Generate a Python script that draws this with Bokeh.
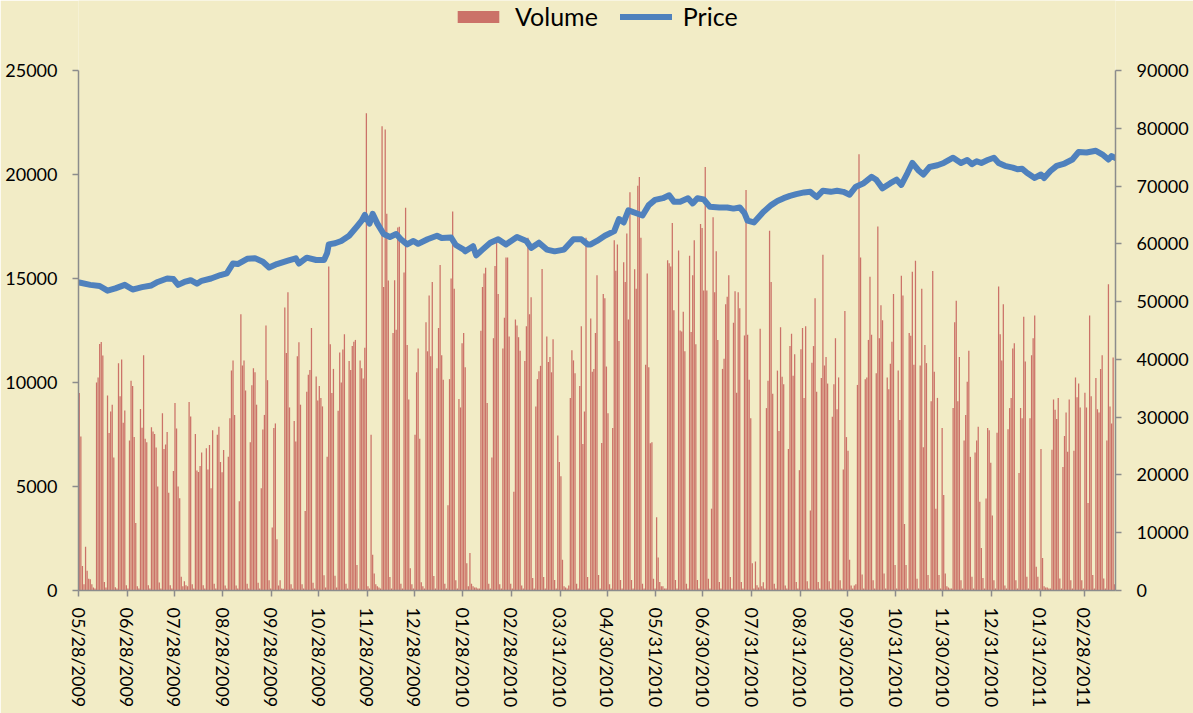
import numpy as np
import pandas as pd
from bokeh.plotting import figure
from bokeh.models import (Range1d, LinearAxis, FixedTicker, Legend, LegendItem,
                          NumeralTickFormatter)
from bokeh.embed import file_html
from bokeh.resources import INLINE

# ---------------- data ----------------
start_date = "05/28/2009"

tick_labels = ["05/28/2009", "06/28/2009", "07/28/2009", "08/28/2009", "09/28/2009",
               "10/28/2009", "11/28/2009", "12/28/2009", "01/28/2010", "02/28/2010",
               "03/31/2010", "04/30/2010", "05/31/2010", "06/30/2010", "07/31/2010",
               "08/31/2010", "09/30/2010", "10/31/2010", "11/30/2010", "12/31/2010",
               "01/31/2011", "02/28/2011"]

# daily volume: first Thu-Sun, then weeks Mon..Sun
vol_head = [9500, 7400, 1180, 300]
vol_weeks = [
    [2100, 950, 570, 540, 300, 150, 100],
    [10000, 10240, 11850, 11950, 11300, 410, 150],
    [9380, 7570, 8600, 8930, 6390, 160, 100],
    [10930, 9340, 11100, 8060, 8650, 250, 100],
    [7210, 10080, 9830, 7380, 3250, 210, 100],
    [8720, 7820, 11310, 7290, 7130, 250, 100],
    [7850, 7650, 7520, 6880, 5000, 380, 100],
    [8520, 6800, 7020, 7620, 4700, 250, 100],
    [5750, 9020, 7790, 5000, 4430, 660, 200],
    [440, 250, 200, 9060, 8360, 300, 100],
    [7520, 5770, 5700, 5980, 6640, 250, 100],
    [6835, 5818, 6999, 4917, 7703, 328, 100],
    [7490, 7867, 6179, 5687, 6753, 246, 100],
    [6425, 8277, 10572, 11063, 8441, 246, 100],
    [4294, 13276, 10817, 11063, 9621, 328, 100],
    [7130, 9867, 10686, 10490, 8933, 377, 100],
    [4917, 7736, 8441, 12735, 10113, 492, 100],
    [3032, 7818, 8031, 2459, 246, 492, 100],
    [82, 13604, 11424, 14341, 8801, 295, 100],
    [8146, 7162, 11260, 11932, 8933, 295, 100],
    [3819, 9555, 10375, 10605, 12620, 377, 100],
    [10293, 9129, 9834, 9260, 8851, 738, 150],
    [6425, 15571, 11834, 9500, 10654, 705, 150],
    [8637, 11440, 9998, 11588, 12325, 330, 100],
    [11030, 10605, 11752, 11965, 12047, 1230, 100],
    [11063, 10686, 10195, 11670, 22946, 200, 100],
    [7490, 1721, 820, 300, 200, 150, 100],
    [22323, 14587, 22159, 18111, 14900, 650, 100],
    [12375, 14915, 12539, 17455, 17488, 328, 100],
    [15292, 18406, 11801, 9178, 1065, 300, 100],
    [7490, 10490, 11637, 7294, 400, 200, 100],
    [12899, 11500, 14177, 11260, 14833, 700, 100],
    [10686, 12620, 15652, 11309, 10129, 328, 100],
    [4098, 10162, 14997, 18226, 14505, 492, 100],
    [9211, 8800, 11883, 12375, 10735, 1311, 200],
    [1803, 330, 200, 150, 150, 100, 100],
    [12490, 14587, 15243, 15522, 9015, 330, 100],
    [6392, 12129, 15604, 16964, 14259, 300, 100],
    [11637, 13112, 16013, 16013, 12211, 330, 100],
    [4753, 13030, 12735, 12178, 11522, 246, 100],
    [11030, 12703, 16964, 13276, 14095, 600, 100],
    [8851, 10162, 10539, 10801, 15457, 650, 100],
    [12211, 10981, 11227, 10490, 12079, 500, 100],
    [7457, 6179, 5490, 1475, 200, 150, 100],
    [246, 9260, 11555, 11063, 10440, 330, 100],
    [9834, 12703, 7048, 8605, 16964, 650, 100],
    [13079, 10522, 10654, 12375, 15161, 740, 100],
    [7097, 14259, 14046, 10768, 8523, 300, 100],
    [7818, 16833, 15374, 16636, 12000, 500, 100],
    [15784, 14833, 17160, 13030, 19143, 500, 100],
    [15439, 14505, 19455, 19881, 16964, 328, 100],
    [10850, 15243, 10735, 7081, 7130, 570, 100],
    [3524, 1590, 410, 200, 200, 100, 100],
    [15882, 15734, 15571, 17668, 13473, 500, 100],
    [16341, 12506, 12457, 13407, 11506, 328, 100],
    [16095, 12424, 15161, 16833, 11834, 500, 100],
    [17619, 17423, 14423, 20356, 14423, 570, 100],
    [3934, 17946, 14341, 16308, 12047, 410, 100],
    [10654, 11145, 13768, 14128, 15161, 650, 100],
    [12867, 14390, 9506, 14341, 13571, 410, 100],
    [12260, 19258, 12293, 10129, 8277, 1311, 100],
    [1393, 250, 150, 12588, 200, 400, 100],
    [8769, 10080, 17291, 14833, 9457, 330, 100],
    [10572, 7671, 12653, 10277, 9916, 246, 100],
    [6802, 11752, 12342, 10326, 11358, 410, 100],
    [5786, 11604, 12620, 9260, 12703, 440, 100],
    [3852, 10948, 11752, 14046, 9555, 410, 100],
    [10211, 16144, 10817, 11227, 9949, 440, 100],
    [8359, 9916, 12129, 8719, 10244, 492, 100],
    [5818, 13440, 7376, 6720, 1475, 246, 100],
    [246, 300, 9883, 20979, 16013, 770, 100],
    [10162, 10244, 12047, 15079, 12293, 492, 100],
    [10440, 17504, 12129, 13719, 12998, 820, 100],
    [10244, 9670, 10899, 11965, 14259, 1230, 100],
    [10572, 8195, 15128, 14177, 3196, 1230, 100],
    [12375, 12243, 15325, 10850, 15849, 570, 100],
    [10817, 14505, 6884, 11801, 10932, 740, 100],
    [9096, 15357, 10522, 3934, 9260, 740, 100],
    [7818, 4589, 820, 200, 150, 100, 100],
    [8769, 12899, 13932, 9096, 11227, 492, 100],
    [7212, 8441, 10031, 11522, 6425, 656, 100],
    [6638, 7212, 7867, 4261, 2049, 600, 100],
    [4425, 7818, 7703, 6146, 3606, 492, 100],
    [7589, 14620, 12325, 11063, 13768, 246, 100],
    [7752, 8769, 9260, 11637, 11883, 492, 100],
    [5654, 8769, 8277, 13161, 11014, 656, 100],
    [8277, 11309, 12129, 13227, 1147, 656, 100],
    [6802, 1557, 200, 150, 150, 100, 100],
    [6769, 9178, 8687, 8244, 9260, 574, 100],
    [5933, 7425, 8556, 6671, 9178, 492, 100],
    [6720, 10244, 9293, 9949, 8801, 492, 100],
    [9506, 8801, 4212, 13227, 9342, 740, 100],
    [10211, 8719, 8556, 10654, 11309, 574, 100],
    [7212, 14718, 8851, 8031, 11200, 300, 100],
]

# price readings (day offset from start, price)
price_days = [0, 7, 13, 18, 23, 29, 34, 37, 40, 46, 50, 56, 60, 63, 67, 71, 75, 78,
              84, 90, 94, 98, 101, 107, 112, 117, 121, 126, 133, 138, 140, 145, 151,
              156, 158, 159, 163, 167, 172, 177, 180, 182, 185, 187, 190, 194, 198,
              202, 205, 209, 213, 216, 222, 228, 231, 237, 240, 245, 246, 251, 253,
              257, 262, 267, 272, 279, 285, 288, 293, 298, 303, 309, 315, 320, 324,
              326, 330, 335, 341, 344, 347, 350, 356, 359, 363, 367, 372, 376, 379,
              383, 388, 391, 394, 398, 402, 408, 413, 417, 421, 424, 426, 430, 432,
              436, 441, 445, 449, 453, 457, 462, 466, 470, 474, 479, 483, 487, 491,
              495, 500, 505, 508, 512, 517, 521, 524, 528, 531, 535, 538, 542, 547,
              551, 557, 562, 566, 569, 572, 575, 579, 583, 586, 590, 595, 598, 601,
              604, 609, 613, 615, 619, 623, 628, 633, 637, 642, 648, 652, 656, 658,
              660]
price_values = [53300, 52900, 52700, 51900, 52300, 52900, 52100, 52300, 52500, 52800,
                53400, 54000, 53900, 52900, 53400, 53700, 53100, 53600, 54000, 54600,
                54900, 56600, 56500, 57400, 57500, 56900, 55900, 56500, 57100, 57500,
                56600, 57600, 57200, 57200, 58400, 59900, 60100, 60500, 61400, 63000,
                64000, 65000, 63500, 65200, 63500, 61700, 61200, 61700, 60800, 59900,
                60500, 60000, 60800, 61400, 61000, 61100, 59800, 59000, 58700, 59600,
                58000, 59000, 60200, 60800, 59900, 61200, 60500, 59300, 60200, 59000,
                58700, 59000, 60800, 60800, 59900, 59900, 60500, 61400, 62200, 64300,
                63700, 65800, 65200, 64900, 66700, 67600, 67900, 68400, 67300, 67300,
                67900, 67000, 67900, 67700, 66400, 66300, 66300, 66100, 66300, 65300,
                64000, 63700, 64300, 65500, 66700, 67400, 67900, 68300, 68600, 68900,
                69000, 68100, 69200, 69000, 69200, 69000, 68500, 69900, 70500, 71600,
                71100, 69600, 70500, 71100, 70200, 72300, 74000, 72700, 72000, 73300,
                73600, 74000, 74900, 74000, 74500, 73800, 74300, 74000, 74500, 74900,
                74000, 73500, 73200, 72900, 73000, 72300, 71400, 72000, 71400, 72600,
                73500, 73900, 74600, 75900, 75800, 76100, 75500, 74600, 75200, 74900]

volume_max = 25000
price_max = 90000
volume_ticks = [0, 5000, 10000, 15000, 20000, 25000]
price_ticks = [0, 10000, 20000, 30000, 40000, 50000, 60000, 70000, 80000, 90000]

# ---------------- derived ----------------
start = pd.to_datetime(start_date, format="%m/%d/%Y")
volume = vol_head + [v for w in vol_weeks for v in w]
vol_days = np.arange(len(volume))
tick_days = [int((pd.to_datetime(t, format="%m/%d/%Y") - start).days) for t in tick_labels]

BG = "#F2ECC6"
AXIS = "#8C8C8C"
FONT = "Lato"

# the frame runs up to the top of the canvas (so the legend can sit in it);
# the axes' value range is stretched so that the axis maxima sit 70px lower
PLOT_H = 520.0
TOP_PAD = 70.0
stretch = (PLOT_H + TOP_PAD) / PLOT_H

p = figure(width=1193, height=713, output_backend="svg", toolbar_location=None,
           x_range=Range1d(0, 661), y_range=Range1d(0, volume_max * stretch),
           min_border_left=78, min_border_right=78, min_border_top=0,
           min_border_bottom=123)
p.extra_y_ranges = {"price": Range1d(0, price_max * stretch)}
p.background_fill_color = BG
p.border_fill_color = BG
p.outline_line_color = None
p.grid.visible = False

vb = p.vbar(x=vol_days + 0.5, top=volume, width=0.8, fill_color="#C0504D",
            fill_alpha=0.78, line_color=None)
ln = p.line(x=np.array(price_days) + 0.5, y=price_values, y_range_name="price",
            line_color="#4F81BD", line_width=6, line_join="round", line_cap="round")

right = LinearAxis(y_range_name="price")
p.add_layout(right, "right")

p.yaxis[0].ticker = FixedTicker(ticks=volume_ticks)
p.yaxis[0].bounds = (0, volume_max)
right.ticker = FixedTicker(ticks=price_ticks)
right.bounds = (0, price_max)
p.xaxis.ticker = FixedTicker(ticks=tick_days)
p.xaxis.major_label_overrides = {d: t for d, t in zip(tick_days, tick_labels)}
p.xaxis.major_label_orientation = "vertical"

for ax in [p.xaxis[0], p.yaxis[0], right]:
    ax.axis_line_color = AXIS
    ax.axis_line_width = 1.5
    ax.major_tick_line_color = AXIS
    ax.major_tick_line_width = 1.5
    ax.major_tick_out = 6
    ax.major_tick_in = 0
    ax.minor_tick_line_color = None
    ax.major_label_text_font = FONT
    ax.major_label_text_font_size = "18px"
    ax.major_label_text_color = "black"
for ax in [p.yaxis[0], right]:
    ax.formatter = NumeralTickFormatter(format="0")
p.yaxis[0].major_label_standoff = 15
right.major_label_standoff = 15
p.xaxis[0].major_label_standoff = 11

legend = Legend(items=[LegendItem(label="Volume", renderers=[vb]),
                       LegendItem(label="Price", renderers=[ln])],
                orientation="horizontal", location=(374, 559),
                glyph_width=52, glyph_height=15, label_standoff=11, spacing=22,
                padding=4, border_line_color=None, background_fill_alpha=0,
                label_text_font=FONT, label_text_font_size="25px",
                label_text_color="black")
p.add_layout(legend, "center")

open("out.html", "w").write(file_html(p, INLINE))
